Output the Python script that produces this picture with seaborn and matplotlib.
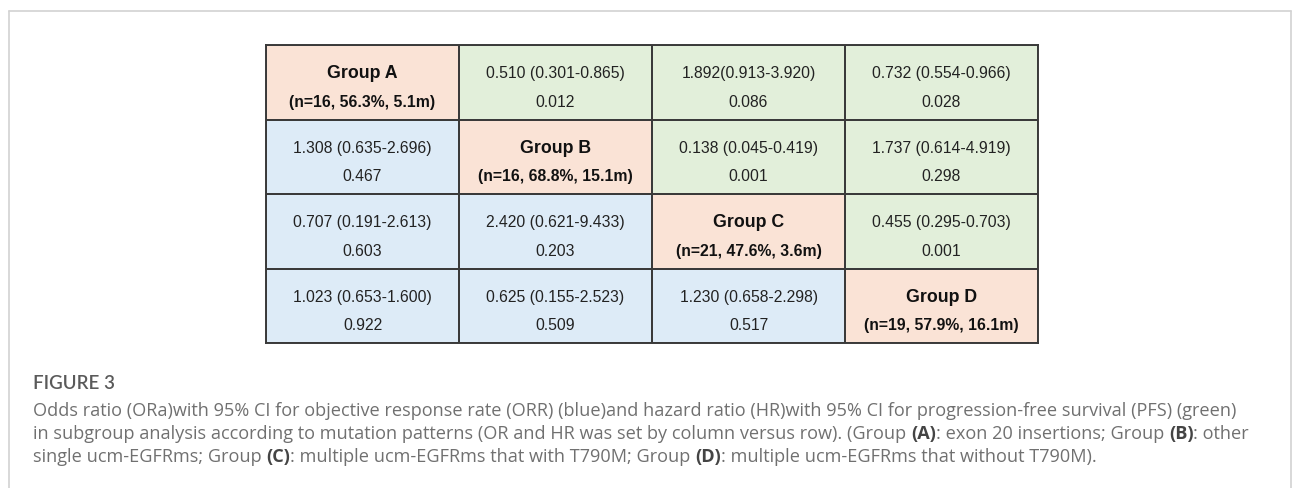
import numpy as np
import matplotlib
matplotlib.use("Agg")
import matplotlib.pyplot as plt
from matplotlib.colors import ListedColormap
from matplotlib.lines import Line2D
import seaborn as sns

# --- data -------------------------------------------------------------
groups = ["Group A", "Group B", "Group C", "Group D"]
group_stats = ["(n=16, 56.3%, 5.1m)", "(n=16, 68.8%, 15.1m)",
               "(n=21, 47.6%, 3.6m)", "(n=19, 57.9%, 16.1m)"]

# upper triangle: HR (PFS), lower triangle: OR (ORR)
ratio_text = [
    [None, "0.510 (0.301-0.865)", "1.892(0.913-3.920)", "0.732 (0.554-0.966)"],
    ["1.308 (0.635-2.696)", None, "0.138 (0.045-0.419)", "1.737 (0.614-4.919)"],
    ["0.707 (0.191-2.613)", "2.420 (0.621-9.433)", None, "0.455 (0.295-0.703)"],
    ["1.023 (0.653-1.600)", "0.625 (0.155-2.523)", "1.230 (0.658-2.298)", None],
]
p_values = [
    [None, "0.012", "0.086", "0.028"],
    ["0.467", None, "0.001", "0.298"],
    ["0.603", "0.203", None, "0.001"],
    ["0.922", "0.509", "0.517", None],
]

caption_title = "FIGURE 3"
caption_lines = [
    [("Odds ratio (ORa)with 95% CI for objective response rate (ORR) (blue)and hazard ratio (HR)with 95% CI for progression-free survival (PFS) (green)", False)],
    [("in subgroup analysis according to mutation patterns (OR and HR was set by column versus row). (Group ", False),
     ("(A)", True), (": exon 20 insertions; Group ", False), ("(B)", True), (": other", False)],
    [("single ucm-EGFRms; Group ", False), ("(C)", True),
     (": multiple ucm-EGFRms that with T790M; Group ", False), ("(D)", True),
     (": multiple ucm-EGFRms that without T790M).", False)],
]

# --- figure -----------------------------------------------------------
W, H = 1295, 489
sns.set_style("white")
plt.rcParams["font.family"] = ["Liberation Sans", "DejaVu Sans"]
fig = plt.figure(figsize=(W / 100, H / 100), dpi=100)

n = len(groups)
# 0 = OR (blue), 1 = HR (green), 2 = diagonal group cell (peach)
idx = np.arange(n)
kind = np.where(idx[None, :] > idx[:, None], 1, 0)
kind[idx, idx] = 2
cmap = ListedColormap(["#DDEBF7", "#E2EFDA", "#FAE3D6"])

ax = fig.add_axes([266 / W, 1 - 344 / H, 772 / W, 298 / H])
sns.heatmap(kind, cmap=cmap, vmin=-0.5, vmax=2.5, cbar=False,
            linewidths=1.2, linecolor="#3a3a3a", ax=ax,
            xticklabels=False, yticklabels=False)
for s in ax.spines.values():
    s.set_visible(True)
    s.set_color("#3a3a3a")
    s.set_linewidth(1.4)

fs = 11.3
for r in range(n):
    for c in range(n):
        if r == c:
            ax.text(c + 0.5, r + 0.37, groups[r], ha="center", va="center",
                    fontsize=12.8, fontweight="bold", color="#111111")
            ax.text(c + 0.5, r + 0.755, group_stats[r], ha="center", va="center",
                    fontsize=fs, fontweight="bold", color="#111111")
        else:
            ax.text(c + 0.5, r + 0.37, ratio_text[r][c], ha="center", va="center",
                    fontsize=fs, color="#222222")
            ax.text(c + 0.5, r + 0.755, p_values[r][c], ha="center", va="center",
                    fontsize=fs, color="#222222")

# outer light frame
frame_c = "#d2d2d2"
fig.add_artist(Line2D([9 / W, 9 / W], [0, 1 - 12 / H], transform=fig.transFigure, color=frame_c, lw=1.2))
fig.add_artist(Line2D([1291 / W, 1291 / W], [0, 1 - 12 / H], transform=fig.transFigure, color=frame_c, lw=1.2))
fig.add_artist(Line2D([9 / W, 1291 / W], [1 - 12 / H, 1 - 12 / H], transform=fig.transFigure, color=frame_c, lw=1.2))

# caption
cap_font = ["Open Sans", "DejaVu Sans"]
cap_color = "#707070"
fig.text(33 / W, 1 - 389 / H, caption_title, family=["Lato", "DejaVu Sans"], fontsize=13.5,
         fontweight="semibold", color="#5a5a5a", va="baseline")

renderer = fig.canvas.get_renderer()
baselines = [416, 439, 462]
for segs, yb in zip(caption_lines, baselines):
    x = 33
    for txt, bold in segs:
        t = fig.text(x / W, 1 - yb / H, txt, family=cap_font, fontsize=13.1,
                     fontweight="bold" if bold else "normal",
                     color="#444444" if bold else cap_color, va="baseline")
        x = t.get_window_extent(renderer).x1

fig.savefig("out.png", dpi=100)
